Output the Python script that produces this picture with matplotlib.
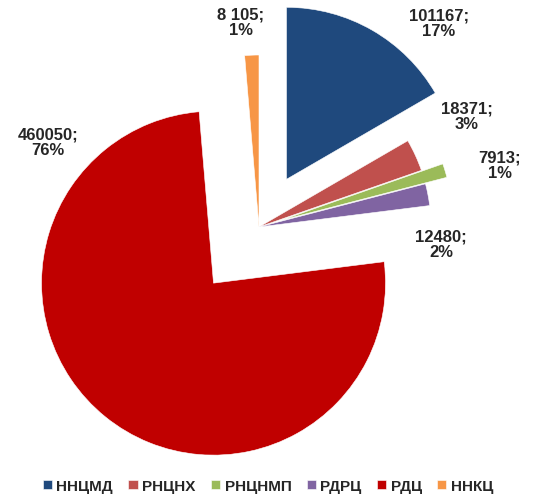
import matplotlib.pyplot as plt

# data
labels = ['ННЦМД', 'РНЦНХ', 'РНЦНМП', 'РДРЦ', 'РДЦ', 'ННКЦ']
values = [101167, 18371, 7913, 12480, 460050, 8105]
value_text = ['101167', '18371', '7913', '12480', '460050', '8 105']
colors = ['#1F497D', '#C0504D', '#9BBB59', '#8064A2', '#C00000', '#F79646']
explode = [0.32, 0.0, 0.13, 0.0, 0.42, 0.0]

plt.rcParams['font.family'] = ['Liberation Sans', 'DejaVu Sans']

fig = plt.figure(figsize=(5.36, 5.02), dpi=100)
ax = fig.add_axes([0, 0, 1, 1])

wedges, _ = ax.pie(values, colors=colors, explode=explode, startangle=90,
                   counterclock=False, radius=1,
                   wedgeprops=dict(edgecolor='white', linewidth=0.4))

# keep 1 data unit = 172 px, pie centre at pixel (259, 228)
ax.set_xlim(-259 / 172, (536 - 259) / 172)
ax.set_ylim((228 - 502) / 172, 228 / 172)
ax.set_aspect('auto')
ax.axis('off')

# label positions (pixel coords in the picture)
label_px = [(439, 24), (467, 117), (500, 166), (441, 245), (48, 143), (241, 23)]
total = sum(values)
for v, t, (px, py) in zip(values, value_text, label_px):
    pct = round(v / total * 100)
    ax.text((px - 259) / 172, (228 - py) / 172, f'{t};\n{pct}%',
            ha='center', va='center', fontsize=12, fontweight='bold',
            color='#262626', linespacing=1.0)

leg = ax.legend(wedges, labels, loc='center', bbox_to_anchor=(0.5, 0.03),
                ncol=6, frameon=False, handlelength=0.6, handleheight=0.6,
                handletextpad=0.3, columnspacing=1.0,
                prop=dict(size=11, weight='bold'))
for t in leg.get_texts():
    t.set_color('#262626')

fig.savefig('out.png', dpi=100)
